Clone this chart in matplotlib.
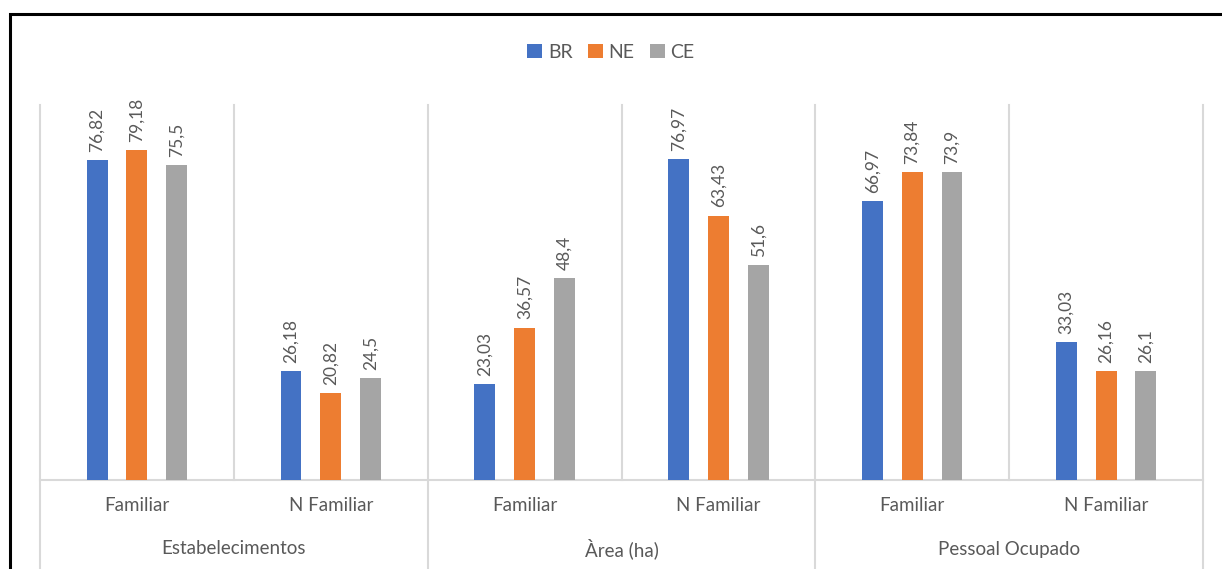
import matplotlib
matplotlib.use("Agg")
import matplotlib.pyplot as plt
from matplotlib.lines import Line2D
from matplotlib.patches import Rectangle
import numpy as np

# chart data
groups = ["Estabelecimentos", "Àrea (ha)", "Pessoal Ocupado"]
subcats = ["Familiar", "N Familiar", "Familiar", "N Familiar", "Familiar", "N Familiar"]
series_names = ["BR", "NE", "CE"]
br_values = [76.82, 26.18, 23.03, 76.97, 66.97, 33.03]
ne_values = [79.18, 20.82, 36.57, 63.43, 73.84, 26.16]
ce_values = [75.5, 24.5, 48.4, 51.6, 73.9, 26.1]

colors = ["#4472C4", "#ED7D31", "#A5A5A5"]
grid_color = "#D9D9D9"
text_color = "#595959"

plt.rcParams["font.family"] = ["Lato", "DejaVu Sans"]

W, H = 1222, 569
fig = plt.figure(figsize=(W / 100, H / 100), dpi=100)

# axes placed in pixel terms of the reference
left, right, base, top = 40, 1203, 480, 105
ax = fig.add_axes([left / W, 1 - base / H, (right - left) / W, (base - top) / H])
ax.set_xlim(0, 6)
ax.set_ylim(0, 90)
ax.axis("off")

# outer black border (top and left visible, rest cropped)
fig.patches.append(Rectangle((10 / W, -0.05), 1.1, 1 - 14 / H + 0.05,
                             transform=fig.transFigure, fill=False,
                             edgecolor="black", linewidth=2.2))

x = np.arange(len(subcats)) + 0.5
offset = 0.205
width = 0.108
all_series = [br_values, ne_values, ce_values]

for i, (name, vals) in enumerate(zip(series_names, all_series)):
    xs = x + (i - 1) * offset
    ax.bar(xs, vals, width=width, color=colors[i], label=name, zorder=3)
    for xv, v in zip(xs, vals):
        lbl = str(v).replace(".", ",")
        ax.annotate(lbl, (xv, v), xytext=(0, 6), textcoords="offset points",
                    rotation=90, ha="center", va="bottom", fontsize=12.5,
                    color=text_color)

# gridlines / separators
ax.plot([0, 6], [0, 0], color=grid_color, lw=1.5, zorder=2, clip_on=False)
for k in range(7):
    if k % 2 == 0:
        ax.add_line(Line2D([k, k], [-0.27, 1], color=grid_color, lw=1.5,
                           transform=ax.get_xaxis_transform(), clip_on=False))
    else:
        ax.add_line(Line2D([k, k], [0, 1], color=grid_color, lw=1.5,
                           transform=ax.get_xaxis_transform(), clip_on=False))

# category labels
for xv, s in zip(x, subcats):
    ax.text(xv, -0.069, s, transform=ax.get_xaxis_transform(), ha="center",
            va="center", fontsize=13.5, color=text_color)
for g, name in enumerate(groups):
    ax.text(2 * g + 1, -0.184, name, transform=ax.get_xaxis_transform(),
            ha="center", va="center", fontsize=13.5, color=text_color)

fig.legend(loc="center", bbox_to_anchor=(0.5, 1 - 52 / H), ncol=3,
           frameon=False, handlelength=0.75, handleheight=0.75,
           columnspacing=0.8, handletextpad=0.3, fontsize=14,
           labelcolor=text_color)

fig.savefig("out.png", dpi=100)
